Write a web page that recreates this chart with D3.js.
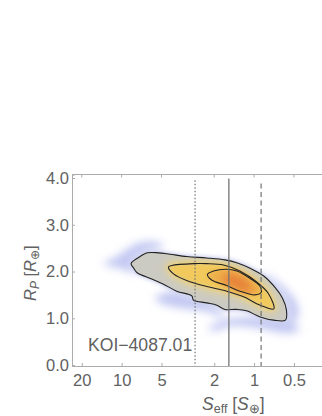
<!DOCTYPE html>
<html>
<head>
<meta charset="utf-8">
<script src="https://cdnjs.cloudflare.com/ajax/libs/d3/7.8.5/d3.min.js"></script>
<style>
  html, body { margin: 0; padding: 0; background: #fff; }
  svg { display: block; }
  text { font-family: "Liberation Sans", Arial, sans-serif; fill: #616161; }
</style>
</head>
<body>
<svg id="chart" width="322" height="416"></svg>
<script>
var xTicks = [20, 10, 5, 2, 1, 0.5];
var yTicks = [0, 1, 2, 3, 4];

// vertical reference lines, insolation in earth units
var dottedLine = { s: 2.79, top: 3.95 };
var solidLine = { s: 1.55, top: 3.99 };
var dashedLine = { s: 0.885, top: 3.88 };

// contours, [S, R]
var outerContour = [[8.48,2.17],[7.46,2.30],[6.38,2.40],[5.27,2.40],[4.31,2.37],[3.22,2.32],[2.28,2.29],[1.66,2.25],[1.35,2.19],[1.07,2.07],[0.85,1.91],[0.69,1.65],[0.61,1.43],[0.57,1.18],[0.58,0.96],[0.71,0.96],[0.90,1.03],[1.14,1.16],[1.35,1.19],[1.66,1.19],[1.91,1.28],[2.28,1.33],[2.87,1.39],[2.95,1.48],[3.84,1.58],[4.83,1.73],[5.92,1.84],[7.68,1.98],[8.14,2.08]];
var midContour = [[4.43,2.10],[4.18,2.13],[2.87,2.17],[2.28,2.17],[1.70,2.14],[1.28,2.01],[0.95,1.77],[0.78,1.53],[0.71,1.20],[0.90,1.28],[1.20,1.46],[1.61,1.58],[2.28,1.68],[3.04,1.78],[4.06,1.95]];
var innerContour = [[2.25,1.94],[2.03,2.01],[1.61,2.05],[1.35,2.01],[1.07,1.85],[0.90,1.68],[0.885,1.55],[0.99,1.50],[1.28,1.58],[1.61,1.70],[2.09,1.82]];
// hottest part of the density, no line around it
var corePatch = [[1.70,1.89],[1.35,1.89],[1.10,1.71],[1.07,1.58],[1.28,1.64],[1.61,1.77]];

// faint blue patches outside the outer contour
var haloUpper = [[13.7,2.16],[10.9,2.32],[8.88,2.50],[7.25,2.62],[5.27,2.62],[4.83,2.53],[6.46,2.41],[8.38,2.17],[7.91,1.96],[10.3,2.07]];
var haloLower = [[5.59,1.43],[4.31,1.57],[2.87,1.46],[1.91,1.25],[1.70,1.03],[2.28,1.14],[3.41,1.21],[4.83,1.30]];
var haloBottom = [[2.21,0.78],[1.70,0.96],[0.90,1.03],[0.57,0.96],[0.45,0.75],[0.57,0.68],[0.90,0.78],[1.43,0.84],[2.03,0.73]];
var haloRight = [[0.85,1.96],[0.64,1.75],[0.49,1.39],[0.46,1.07],[0.53,0.89],[0.60,1.43]];

var svg = d3.select('#chart');

var x = d3.scaleLog().domain([23.7, 0.307]).range([72, 322]);
var y = d3.scaleLinear().domain([-0.02, 4.075]).range([366, 174.5]);

var contourPath = d3.line()
  .x(function(d) { return x(d[0]); })
  .y(function(d) { return y(d[1]); })
  .curve(d3.curveCatmullRomClosed.alpha(0.5));

var defs = svg.append('defs');
[['blurHalo', 4.5], ['blurEdge', 2], ['blurMid', 4], ['blurCore', 4]].forEach(function(b) {
  defs.append('filter').attr('id', b[0])
    .attr('x', '-30%').attr('y', '-40%').attr('width', '160%').attr('height', '180%')
    .append('feGaussianBlur').attr('stdDeviation', b[1]);
});
defs.append('clipPath').attr('id', 'outerClip')
  .append('path').attr('d', contourPath(outerContour));

// density, back to front
var halo = svg.append('g').attr('filter', 'url(#blurHalo)');
[haloUpper, haloLower, haloBottom, haloRight].forEach(function(h) {
  halo.append('path').attr('d', contourPath(h)).attr('fill', '#c2c8f2');
});
svg.append('path').attr('d', contourPath(outerContour))
  .attr('fill', '#c6caea').attr('stroke', '#c6caea').attr('stroke-width', 3)
  .attr('filter', 'url(#blurEdge)');

var inside = svg.append('g').attr('clip-path', 'url(#outerClip)');
inside.append('path').attr('d', contourPath(outerContour)).attr('fill', '#cbcac3');
inside.append('path').attr('d', contourPath(midContour))
  .attr('fill', '#e8d38a').attr('stroke', '#e8d38a').attr('stroke-width', 7)
  .attr('filter', 'url(#blurMid)');
inside.append('path').attr('d', contourPath(midContour))
  .attr('fill', '#f1c95c').attr('filter', 'url(#blurEdge)');
inside.append('path').attr('d', contourPath(innerContour))
  .attr('fill', '#eeb04c').attr('filter', 'url(#blurEdge)');
inside.append('path').attr('d', contourPath(corePatch))
  .attr('fill', '#e67f38').attr('stroke', '#e67f38').attr('stroke-width', 3)
  .attr('filter', 'url(#blurCore)');

[outerContour, midContour, innerContour].forEach(function(c) {
  svg.append('path').attr('d', contourPath(c))
    .attr('fill', 'none').attr('stroke', '#222').attr('stroke-width', 1.1);
});

// insolation markers
function vline(l, dash, width) {
  svg.append('line')
    .attr('x1', x(l.s)).attr('x2', x(l.s))
    .attr('y1', y(l.top)).attr('y2', y.range()[0])
    .attr('stroke', '#737373').attr('stroke-width', width)
    .attr('stroke-dasharray', dash);
}
vline(dottedLine, '1.5 2', 1.2);
vline(solidLine, null, 1.3);
vline(dashedLine, '5 3.5', 1.2);

// axes
function styleAxis(g) {
  g.selectAll('.domain').attr('stroke', '#ababab').attr('stroke-width', 1);
  g.selectAll('.tick line').attr('stroke', '#ababab');
  g.selectAll('.tick text').attr('fill', '#616161')
    .attr('font-family', '"Liberation Sans", Arial, sans-serif').attr('font-size', 16.5);
}

svg.append('g').attr('transform', 'translate(0,366)')
  .call(d3.axisBottom(x).tickValues(xTicks).tickFormat(function(d) { return d; }).tickSize(-3).tickPadding(8))
  .call(styleAxis);
svg.append('g').attr('transform', 'translate(72,0)')
  .call(d3.axisLeft(y).tickValues(yTicks).tickFormat(d3.format('.1f')).tickSize(-3).tickPadding(3))
  .call(styleAxis);

// top frame
svg.append('line').attr('x1', 72).attr('x2', 322).attr('y1', 174.5).attr('y2', 174.5)
  .attr('stroke', '#ababab');
svg.append('g').selectAll('line').data(xTicks).join('line')
  .attr('x1', function(d) { return x(d); }).attr('x2', function(d) { return x(d); })
  .attr('y1', 174.5).attr('y2', 177.5).attr('stroke', '#ababab');

svg.append('text').attr('x', 88).attr('y', 351).attr('font-size', 17.6).text('KOI\u22124087.01');

// axis labels
var xLabel = svg.append('text').attr('x', 202).attr('y', 410).attr('font-size', 17.5);
xLabel.append('tspan').attr('font-style', 'italic').text('S');
xLabel.append('tspan').attr('font-size', 12.5).attr('dy', 3).text('eff');
xLabel.append('tspan').attr('dy', -3).text(' [');
xLabel.append('tspan').attr('font-style', 'italic').text('S');
xLabel.append('tspan').attr('font-size', 12.5).attr('dy', 3).text('\u2295');
xLabel.append('tspan').attr('dy', -3).text(']');

var yLabel = svg.append('text').attr('transform', 'translate(36,301) rotate(-90)').attr('font-size', 16.5);
yLabel.append('tspan').attr('font-style', 'italic').text('R');
yLabel.append('tspan').attr('font-size', 12).attr('font-style', 'italic').attr('dy', 3).text('P');
yLabel.append('tspan').attr('dy', -3).text(' [');
yLabel.append('tspan').attr('font-style', 'italic').text('R');
yLabel.append('tspan').attr('font-size', 12).attr('dy', 3).text('\u2295');
yLabel.append('tspan').attr('dy', -3).text(']');
</script>
</body>
</html>
